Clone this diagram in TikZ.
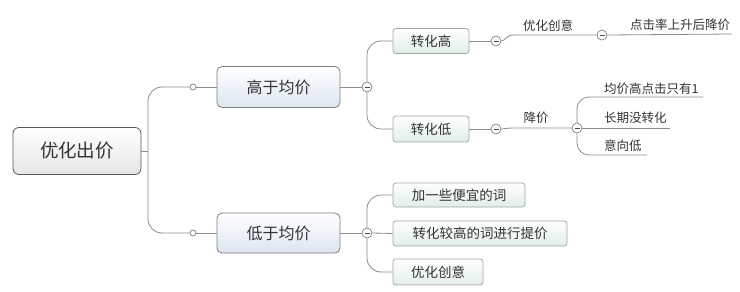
\documentclass[tikz,border=0pt]{standalone}
\usepackage{fontspec}
\setmainfont{Noto Sans CJK SC}
\definecolor{blfill}{HTML}{DCE5F2}
\definecolor{grfill}{HTML}{E0EEE6}
\begin{document}
\begin{tikzpicture}[x=1pt,y=-1pt,
  conn/.style={draw=black!45, line width=0.8pt},
  rootbox/.style={draw=black!65, line width=0.8pt, rounded corners=6pt, top color=white, bottom color=black!10, minimum width=128pt, minimum height=47pt, inner sep=0pt, font=\fontsize{18.5}{20}\selectfont, text=black!80},
  lvlone/.style={draw=black!50, line width=0.8pt, rounded corners=5pt, top color=white, bottom color=blfill, minimum height=41pt, inner sep=0pt, font=\fontsize{16}{18}\selectfont, text=black!80},
  lvltwo/.style={draw=black!35, line width=0.8pt, rounded corners=3pt, top color=white, bottom color=grfill, minimum height=25pt, inner sep=0pt, font=\fontsize{13.5}{15}\selectfont, text=black!80},
  lbl/.style={inner sep=0pt, font=\fontsize{12.5}{14}\selectfont, text=black!80},
  minusc/.style={circle, draw=black!50, line width=0.7pt, fill=white, minimum size=10pt, inner sep=0pt,
    path picture={\draw[black!70, line width=0.8pt] ([xshift=-2.5pt]path picture bounding box.center) -- ([xshift=2.5pt]path picture bounding box.center);}},
  openc/.style={circle, draw=black!50, line width=0.7pt, fill=white, minimum size=6pt, inner sep=0pt}
]
\useasboundingbox (0,0) rectangle (740,292);
\fill[white] (0,0) rectangle (740,292);

% nodes
\node[rootbox] (root) at (77,151) {优化出价};
\node[lvlone, minimum width=123pt] (hi) at (278.5,87) {高于均价};
\node[lvlone, minimum width=123pt, minimum height=40pt] (lo) at (278.5,233) {低于均价};
\node[openc] (c1) at (193,87) {};
\node[openc] (c2) at (193,233) {};
\coordinate (t) at (148,151);

\node[minusc] (m1) at (367,87) {};
\node[minusc] (m2) at (367,233) {};

\node[lvltwo, minimum width=76pt] (zh) at (431,41) {转化高};
\node[lvltwo, minimum width=76pt, minimum height=26pt] (zl) at (431,129) {转化低};

\node[lvltwo, minimum width=132pt, minimum height=24pt] (b1) at (459,195) {加一些便宜的词};
\node[lvltwo, minimum width=174pt] (b2) at (480,233.5) {转化较高的词进行提价};
\node[lvltwo, minimum width=90pt, minimum height=26pt] (b3) at (438,272) {优化创意};

\node[minusc] (m3) at (496,41) {};
\node[minusc] (m4) at (602,35) {};
\node[minusc] (m5) at (496,129) {};
\node[minusc] (m6) at (577,128) {};

\node[lbl] (l1) at (548,26) {优化创意};
\node[lbl] (l2) at (680,25) {点击率上升后降价};
\coordinate (l2e) at (732,34);
\node[lbl] (l3) at (536,118) {降价};
\node[lbl, anchor=west] (l4) at (604,89) {均价高点击只有1};
\node[lbl, anchor=west] (l5) at (604,118) {长期没转化};
\node[lbl, anchor=west] (l6) at (604,146) {意向低};
\coordinate (l4e) at (703,97);
\coordinate (l5e) at (670,128);
\coordinate (l6e) at (647,155);

% connectors
\draw[conn] (root.east) -- (t);
\draw[conn, rounded corners=14pt] (t) |- (c1.west);
\draw[conn, rounded corners=14pt] (t) |- (c2.west);
\draw[conn] (c1.east) -- (hi.west);
\draw[conn] (c2.east) -- (lo.west);
\draw[conn] (hi.east) -- (m1.west);
\draw[conn] (lo.east) -- (m2.west);

\draw[conn, rounded corners=14pt] (m1.north) |- (zh.west);
\draw[conn, rounded corners=14pt] (m1.south) |- (zl.west);

\draw[conn, rounded corners=14pt] (m2.north) |- (b1.west);
\draw[conn] (m2.east) -- (b2.west);
\draw[conn, rounded corners=14pt] (m2.south) |- (b3.west);

\draw[conn] (zh.east) -- (m3.west);
\draw[conn] (zl.east) -- (m5.west);
\draw[conn] (m3.east) .. controls (505,41) and (506,35) .. (514,35) -- (m4.west);
\draw[conn] (m4.east) -- (l2e);
\draw[conn] (m5.east) .. controls (505,129) and (506,128) .. (514,128) -- (m6.west);

\draw[conn, rounded corners=12pt] (m6.north) |- (l4e);
\draw[conn] (m6.east) -- (l5e);
\draw[conn, rounded corners=12pt] (m6.south) |- (l6e);
\end{tikzpicture}
\end{document}
